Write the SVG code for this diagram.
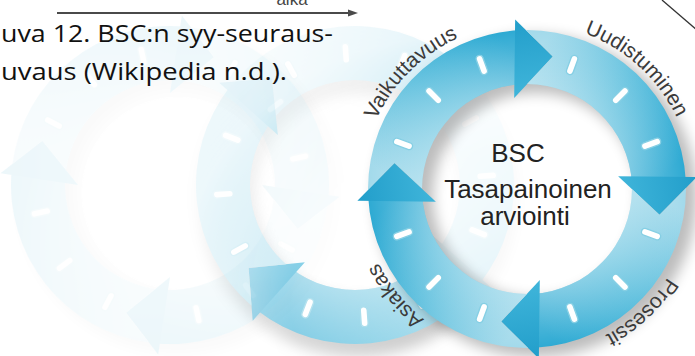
<svg xmlns="http://www.w3.org/2000/svg" xmlns:xlink="http://www.w3.org/1999/xlink" width="695" height="356" viewBox="0 0 695 356">
<style>
  .caption { font-family: "Open Sans", "Liberation Sans", sans-serif; font-size: 24px; fill: #111; }
  .axis-label { font-family: "Liberation Sans", Arial, sans-serif; font-size: 17px; fill: #444; }
  .ring-label { font-family: "Liberation Sans", Arial, sans-serif; font-size: 21px; fill: #3b3b3b; text-anchor: middle; }
  .core { font-family: "Liberation Sans", Arial, sans-serif; font-size: 26px; fill: #222; text-anchor: middle; }
  .tick { fill: #ffffff; stroke: #86cfe4; stroke-width: 1.4; }
  .band { fill: url(#bandFill); }
  .sheen { fill: url(#bandSheen); }
  .head { fill: url(#headFill); }
</style>
<defs>
  <!-- colour along one band: pale where it leaves the previous arrowhead, deep at its own head -->
  <linearGradient id="bandFill" gradientUnits="userSpaceOnUse" x1="-23" y1="-130" x2="128" y2="-32">
    <stop offset="0" stop-color="#a3daeb"/>
    <stop offset="0.5" stop-color="#64c2df"/>
    <stop offset="1" stop-color="#2eaad3"/>
  </linearGradient>
  <!-- lighter inner rim of the band -->
  <radialGradient id="bandSheen" gradientUnits="userSpaceOnUse" cx="0" cy="0" r="159">
    <stop offset="0.66" stop-color="#fff" stop-opacity="0.32"/>
    <stop offset="1" stop-color="#fff" stop-opacity="0"/>
  </radialGradient>
  <linearGradient id="headFill" gradientUnits="userSpaceOnUse" x1="160" y1="-44" x2="90" y2="-20">
    <stop offset="0" stop-color="#239fcb"/>
    <stop offset="1" stop-color="#40b5da"/>
  </linearGradient>
  <filter id="soft" x="-30%" y="-30%" width="160%" height="160%">
    <feGaussianBlur stdDeviation="7"/>
  </filter>
  <!-- the older wheel fades away from the current one -->
  <radialGradient id="fadeRamp" gradientUnits="userSpaceOnUse" cx="440" cy="300" r="300">
    <stop offset="0" stop-color="#fff" stop-opacity="0.8"/>
    <stop offset="0.5" stop-color="#fff" stop-opacity="0.6"/>
    <stop offset="0.7" stop-color="#fff" stop-opacity="0.3"/>
    <stop offset="0.87" stop-color="#fff" stop-opacity="0.12"/>
    <stop offset="1" stop-color="#fff" stop-opacity="0.08"/>
  </radialGradient>
  <mask id="fade" maskUnits="userSpaceOnUse" x="0" y="0" width="695" height="356">
    <rect width="695" height="356" fill="url(#fadeRamp)"/>
  </mask>

  <!-- one quarter of the wheel, centred on the origin, arrow tip at angle 0 -->
  <g id="quarter">
    <path class="band" d="M -31.43 -155.86 L 0 -135 L -19.9 -103.1 A 105 105 0 0 1 101.88 -25.4 L 154.28 -38.47 A 159 159 0 0 0 -31.43 -155.86 Z"/>
    <path class="sheen" d="M -31.43 -155.86 L 0 -135 L -19.9 -103.1 A 105 105 0 0 1 101.88 -25.4 L 154.28 -38.47 A 159 159 0 0 0 -31.43 -155.86 Z"/>
    <rect class="tick" x="-10" y="-3.5" width="20" height="7" rx="3.5" transform="rotate(-81) translate(132 0)"/>
    <rect class="tick" x="-10" y="-3.5" width="20" height="7" rx="3.5" transform="rotate(-56) translate(132 0)"/>
    <rect class="tick" x="-10" y="-3.5" width="20" height="7" rx="3.5" transform="rotate(-31) translate(132 0)"/>
    <path class="head" d="M 86.99 -29.95 L 164.21 -44 L 135 0 Z"/>
  </g>

  <!-- hub: half-clear white disc and the soft drop shadow of the ring -->
  <g id="wheel-base">
    <circle r="106" fill="#fff" fill-opacity="0.85"/>
    <circle r="132" fill="none" stroke="#000" stroke-width="58" opacity="0.26" filter="url(#soft)" transform="translate(9 7)"/>
  </g>

  <g id="wheel-art">
    <use href="#wheel-base" xlink:href="#wheel-base"/>
    <use href="#quarter" xlink:href="#quarter" transform="rotate(-79)"/>
    <use href="#quarter" xlink:href="#quarter" transform="rotate(11)"/>
    <use href="#quarter" xlink:href="#quarter" transform="rotate(101)"/>
    <use href="#quarter" xlink:href="#quarter" transform="rotate(191)"/>
  </g>

  <path id="label-arc" d="M -166 0 A 166 166 0 0 1 166 0"/>
</defs>

<rect width="695" height="356" fill="#fff"/>

<!-- earlier positions of the wheel -->
<g id="trail">
  <use href="#wheel-art" xlink:href="#wheel-art" transform="translate(170 185) rotate(8)" opacity="0.08"/>
  <g mask="url(#fade)">
    <use href="#wheel-art" xlink:href="#wheel-art" transform="translate(355 185) rotate(41)"/>
  </g>
</g>

<!-- current wheel -->
<g id="wheel" transform="translate(527 189)">
  <use href="#wheel-base" xlink:href="#wheel-base"/>
  <g id="node-vaikuttavuus" transform="rotate(-79)">
    <use href="#quarter" xlink:href="#quarter"/>
    <text class="ring-label"><textPath href="#label-arc" xlink:href="#label-arc" startOffset="68.9%">Vaikuttavuus</textPath></text>
  </g>
  <g id="node-uudistuminen" transform="rotate(11)">
    <use href="#quarter" xlink:href="#quarter"/>
    <text class="ring-label"><textPath href="#label-arc" xlink:href="#label-arc" startOffset="67.4%">Uudistuminen</textPath></text>
  </g>
  <g id="node-prosessit" transform="rotate(101)">
    <use href="#quarter" xlink:href="#quarter"/>
    <text class="ring-label"><textPath href="#label-arc" xlink:href="#label-arc" startOffset="70%">Prosessit</textPath></text>
  </g>
  <g id="node-asiakas" transform="rotate(191)">
    <use href="#quarter" xlink:href="#quarter"/>
    <text class="ring-label"><textPath href="#label-arc" xlink:href="#label-arc" startOffset="72.2%">Asiakas</textPath></text>
  </g>
</g>

<g id="node-bsc">
  <text class="core" x="518" y="162">BSC</text>
  <text class="core" x="528" y="198">Tasapainoinen</text>
  <text class="core" x="525" y="225">arviointi</text>
</g>

<!-- time axis -->
<g id="time-axis">
  <text class="axis-label" x="292" y="5" text-anchor="middle">aika</text>
  <line x1="57" y1="13" x2="350" y2="13" stroke="#4a4a4a" stroke-width="2"/>
  <polygon points="348,9.5 358,13 348,16.5" fill="#4a4a4a"/>
  <line x1="662" y1="0" x2="697" y2="30" stroke="#333" stroke-width="1.3"/>
</g>

<g id="caption">
  <text class="caption" x="1" y="42" textLength="332" lengthAdjust="spacingAndGlyphs">uva 12. BSC:n syy-seuraus-</text>
  <text class="caption" x="1" y="80" textLength="286" lengthAdjust="spacingAndGlyphs">uvaus (Wikipedia n.d.).</text>
</g>
</svg>
